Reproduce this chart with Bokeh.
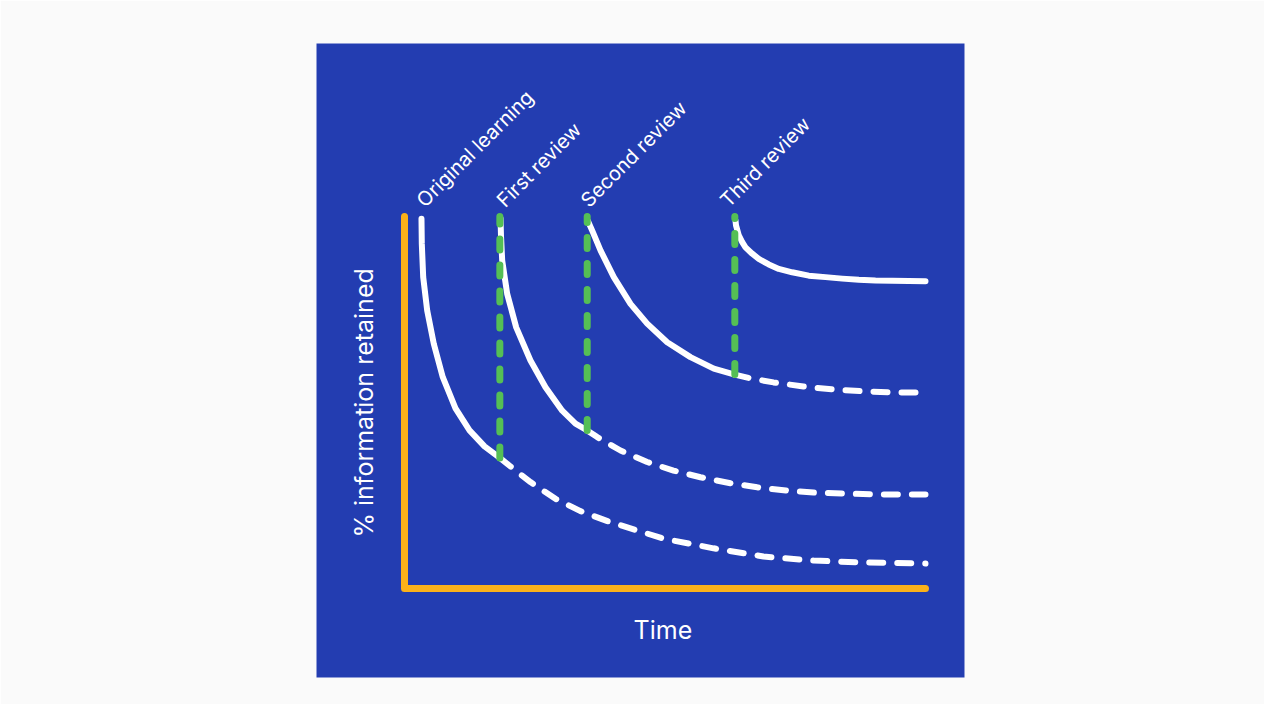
import math
from bokeh.plotting import figure
from bokeh.models import Range1d
from bokeh.core.properties import value
from bokeh.embed import file_html
from bokeh.resources import INLINE

# ---------------- data (time units 0..10, % retained 0..100) ----------------
stage_labels = ["Original learning", "First review", "Second review", "Third review"]
label_time = [0.30, 1.84, 3.45, 6.13]
label_level = [103.5, 103.5, 103.5, 103.5]

review_time = [1.830, 3.507, 6.340]
review_low = [35.1, 42.5, 57.5]
review_high = [100.0, 100.0, 100.0]

orig_t = [0.326, 0.332, 0.359, 0.436, 0.562, 0.735, 0.979, 1.248, 1.536, 1.830]
orig_r = [99.4, 92.7, 83.7, 74.7, 65.8, 56.8, 48.4, 42.5, 38.2, 35.1]
orig_fade_t = [1.830, 2.035, 2.418, 2.898, 3.378, 3.896, 4.971, 5.931, 6.891, 7.850, 8.810, 10.0]
orig_fade_r = [35.1, 32.8, 28.6, 24.1, 20.8, 18.1, 13.4, 10.8, 8.6, 7.5, 7.0, 6.7]

first_t = [1.843, 1.852, 1.875, 1.971, 2.144, 2.418, 2.706, 3.027, 3.282, 3.507]
first_r = [99.5, 94.9, 88.2, 79.2, 70.2, 61.3, 54.1, 47.8, 44.3, 42.5]
first_fade_t = [3.507, 3.699, 4.146, 4.658, 5.163, 5.681, 6.257, 6.770, 7.345, 7.850, 8.497, 9.136, 10.0]
first_fade_r = [42.5, 40.7, 37.1, 34.0, 31.7, 29.9, 28.3, 27.2, 26.3, 25.8, 25.5, 25.3, 25.3]

second_t = [3.518, 3.603, 3.762, 4.017, 4.338, 4.658, 5.042, 5.489, 5.937, 6.340]
second_r = [98.9, 96.2, 90.9, 83.7, 76.5, 71.2, 66.2, 62.2, 59.1, 57.5]
second_fade_t = [6.340, 6.641, 7.083, 7.658, 8.234, 8.810, 9.386, 10.0]
second_fade_r = [57.5, 56.5, 55.4, 54.3, 53.5, 53.0, 52.7, 52.7]

third_t = [6.353, 6.363, 6.417, 6.482, 6.545, 6.674, 6.800, 6.992, 7.184, 7.441,
           7.760, 8.081, 8.401, 8.720, 9.040, 9.361, 10.0]
third_r = [98.9, 97.6, 94.9, 93.1, 91.7, 90.0, 88.6, 87.1, 85.9, 85.0,
           84.1, 83.7, 83.3, 83.0, 82.8, 82.7, 82.6]

axis_t = [0.0, 0.0, 10.0]
axis_r = [100.0, 0.0, 0.0]

x_title = "Time"
y_title = "% information retained"

# ---------------- styling ----------------
BLUE = "#233DB1"
ORANGE = "#FBB11A"
GREEN = "#55BF55"
WHITE = "#FFFFFF"
PAGE = "#FAFAFA"
FONT = "Inter"

p = figure(
    width=1264, height=704,
    x_range=Range1d(-88 / 52.1, 560 / 52.1),
    y_range=Range1d(-89 / 3.72, 545 / 3.72),
    x_axis_location=None, y_axis_location=None,
    output_backend="svg", toolbar_location=None,
    min_border_left=316, min_border_right=300,
    min_border_top=43, min_border_bottom=27,
    background_fill_color=BLUE, border_fill_color=PAGE,
    outline_line_color=None,
)
p.grid.visible = False

# axes (orange)
p.line(axis_t, axis_r, line_color=ORANGE, line_width=7, line_cap="round", line_join="round")

# forgetting curves
solid = dict(line_color=WHITE, line_width=6, line_cap="round", line_join="round")
dashed = dict(line_color=WHITE, line_width=6, line_cap="round", line_join="round", line_dash="14 14")
p.line(orig_t, orig_r, **solid)
p.line(orig_fade_t, orig_fade_r, **dashed)
p.line(first_t, first_r, **solid)
p.line(first_fade_t, first_fade_r, **dashed)
p.line(second_t, second_r, **solid)
p.line(second_fade_t, second_fade_r, **dashed)
p.line(third_t, third_r, **solid)

# review markers (green dashed verticals)
p.segment(x0=review_time, y0=review_low, x1=review_time, y1=review_high,
          line_color=GREEN, line_width=7, line_cap="round", line_dash="11 15")

# stage labels
p.text(x=label_time, y=label_level, text=stage_labels, angle=math.pi / 4,
       text_color=WHITE, text_font=value(FONT), text_font_size="20px",
       text_align="left", text_baseline="alphabetic")

# axis titles
p.text(x=[4.96], y=[-11.29], text=[x_title], text_color=WHITE,
       text_font=value(FONT), text_font_size="25px",
       text_align="center", text_baseline="alphabetic")
p.text(x=[-0.768], y=[49.9], text=[y_title], angle=math.pi / 2, text_color=WHITE,
       text_font=value(FONT), text_font_size="25px",
       text_align="center", text_baseline="alphabetic")

open("out.html", "w").write(file_html(p, INLINE))
